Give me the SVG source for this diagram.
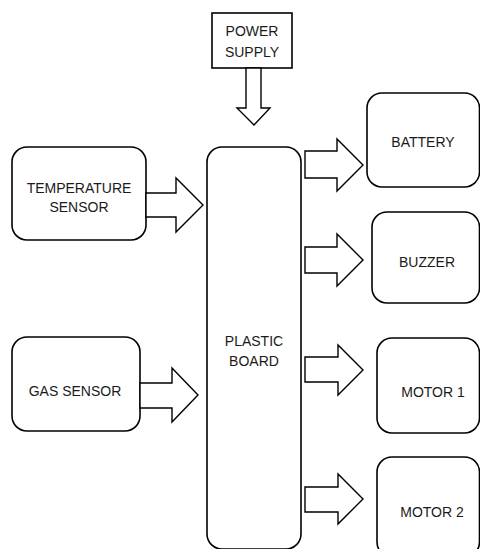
<svg xmlns="http://www.w3.org/2000/svg" width="480" height="549" viewBox="0 0 480 549">
<style>
.box{fill:#fff;stroke:#000;stroke-width:1.6}
.arr{fill:#fff;stroke:#000;stroke-width:1.4;stroke-linejoin:miter}
text{font-family:"Liberation Sans",Arial,sans-serif;font-size:14px;fill:#1a1a1a;text-anchor:middle}
</style>
<rect width="480" height="549" fill="#fff"/>
<g id="power-supply">
<rect class="box" x="212" y="13" width="80" height="55"/>
<text x="252" y="36">POWER</text>
<text x="252" y="57">SUPPLY</text>
</g>
<g id="temperature-sensor">
<rect class="box" x="12" y="147" width="134" height="93" rx="15"/>
<text x="79" y="193">TEMPERATURE</text>
<text x="79" y="212">SENSOR</text>
</g>
<g id="gas-sensor">
<rect class="box" x="12" y="337" width="128" height="94" rx="15"/>
<text x="75" y="396">GAS SENSOR</text>
</g>
<g id="plastic-board">
<rect class="box" x="207" y="147" width="94" height="402" rx="15"/>
<text x="254" y="346">PLASTIC</text>
<text x="254" y="366">BOARD</text>
</g>
<g id="battery">
<rect class="box" x="367" y="93" width="112.5" height="94" rx="15"/>
<text x="423" y="147">BATTERY</text>
</g>
<g id="buzzer">
<rect class="box" x="372" y="212" width="107.5" height="91" rx="15"/>
<text x="427" y="267">BUZZER</text>
</g>
<g id="motor-1">
<rect class="box" x="377" y="338" width="102.5" height="95" rx="15"/>
<text x="433" y="397">MOTOR 1</text>
</g>
<g id="motor-2">
<rect class="box" x="377" y="457" width="102.5" height="100" rx="15"/>
<text x="432" y="517">MOTOR 2</text>
</g>
<g id="connectors">
<polygon class="arr" points="246,68 261,68 261,108 270,108 254,125 237,108 246,108"/>
<polygon class="arr" points="146,193 176,193 176,178 203,205 176,232 176,217 146,217"/>
<polygon class="arr" points="140,383 172,383 172,368 198,395 172,422 172,408 140,408"/>
<polygon class="arr" points="305,151 337,151 337,139 363,165 337,191 337,178 305,178"/>
<polygon class="arr" points="305,247 337,247 337,234 363,260 337,286 337,273 305,273"/>
<polygon class="arr" points="305,357 338,357 338,345 363,370 338,395 338,382 305,382"/>
<polygon class="arr" points="305,487 338,487 338,474 363,499 338,524 338,512 305,512"/>
</g>
</svg>
